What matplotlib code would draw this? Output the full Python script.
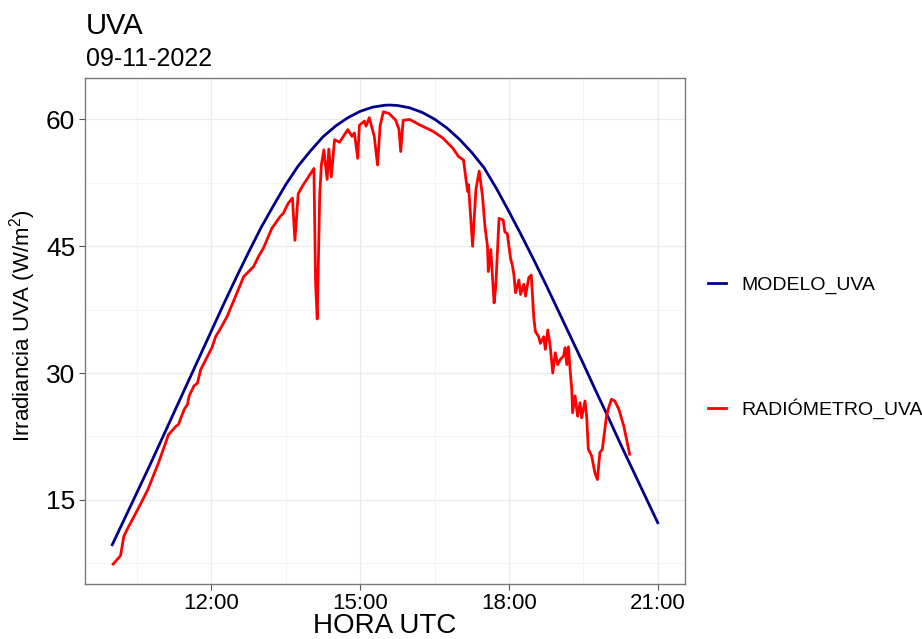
import matplotlib
matplotlib.use('Agg')
import matplotlib.pyplot as plt
import matplotlib.dates as mdates
import pandas as pd

plt.rcParams['font.family'] = ['Liberation Sans', 'DejaVu Sans']
plt.rcParams['mathtext.default'] = 'regular'

DAY = "2022-11-09 "

# modelo (curva suave), cada 15 min
modelo_hora = ["10:00", "10:15", "10:30", "10:45", "11:00", "11:15", "11:30", "11:45",
               "12:00", "12:15", "12:30", "12:45", "13:00", "13:15", "13:30", "13:45",
               "14:00", "14:15", "14:30", "14:45", "15:00", "15:15", "15:30", "15:36",
               "15:45", "16:00", "16:15", "16:30", "16:45", "17:00", "17:15", "17:30",
               "17:45", "18:00", "18:15", "18:30", "18:45", "19:00", "19:15", "19:30",
               "19:45", "20:00", "20:15", "20:30", "20:45", "21:00"]
modelo_uva = [9.7, 12.8, 15.9, 19.0, 22.2, 25.4, 28.6, 31.8,
              35.0, 38.2, 41.3, 44.3, 47.2, 49.8, 52.3, 54.5,
              56.3, 57.95, 59.2, 60.2, 60.96, 61.45, 61.68, 61.7,
              61.65, 61.37, 60.83, 60.03, 58.98, 57.66, 56.09, 54.26,
              51.8, 49.1, 46.3, 43.4, 40.4, 37.3, 34.2, 31.1,
              27.9, 24.8, 21.6, 18.5, 15.4, 12.3]

# radiometro (medido)
radio_hora = ["10:01", "10:10", "10:14", "10:19", "10:31", "10:43", "10:56", "11:08",
              "11:17", "11:20", "11:27", "11:31", "11:33", "11:39", "11:43", "11:47",
              "12:01", "12:05", "12:10", "12:19", "12:39", "12:43", "12:51", "12:57",
              "13:03", "13:13", "13:23", "13:27", "13:33", "13:38", "13:41", "13:45",
              "13:50", "14:04", "14:06", "14:08", "14:11", "14:13", "14:16", "14:20",
              "14:22", "14:25", "14:29", "14:35", "14:45", "14:50", "14:53", "14:57",
              "14:59", "15:05", "15:07", "15:11", "15:17", "15:21", "15:24", "15:28",
              "15:35", "15:43", "15:47", "15:49", "15:52", "16:00", "16:11", "16:28",
              "16:40", "16:52", "16:59", "17:05", "17:08", "17:10", "17:11", "17:16",
              "17:20", "17:24", "17:28", "17:31", "17:34", "17:35", "17:38", "17:42",
              "17:44", "17:48", "17:53", "17:55", "17:58", "18:02", "18:04", "18:06",
              "18:08", "18:12", "18:14", "18:18", "18:20", "18:24", "18:27", "18:30",
              "18:32", "18:36", "18:38", "18:42", "18:44", "18:47", "18:50", "18:53",
              "18:56", "18:59", "19:02", "19:06", "19:08", "19:10", "19:12", "19:14",
              "19:16", "19:17", "19:20", "19:23", "19:26", "19:28", "19:32", "19:34",
              "19:36", "19:40", "19:44", "19:47", "19:50", "19:53", "19:56", "19:58",
              "20:00", "20:04", "20:08", "20:13", "20:19", "20:26"]
radio_uva = [7.4, 8.4, 10.7, 11.7, 13.9, 16.2, 19.4, 22.7,
             23.7, 23.9, 25.7, 26.3, 27.3, 28.5, 28.8, 30.4,
             33.1, 34.3, 35.1, 36.7, 41.4, 41.8, 42.6, 43.8,
             44.8, 47.1, 48.5, 48.9, 50.1, 50.7, 45.7, 51.2,
             52.1, 54.2, 40.6, 36.4, 51.0, 54.6, 56.4, 52.9,
             56.5, 53.2, 57.6, 57.3, 58.8, 58.0, 58.4, 55.4,
             59.3, 59.8, 59.2, 60.2, 58.0, 54.6, 59.2, 60.9,
             60.7, 59.9, 58.8, 56.2, 59.9, 60.0, 59.4, 58.6,
             57.8, 56.6, 55.6, 55.2, 52.9, 51.5, 52.3, 45.0,
             51.7, 53.9, 50.9, 47.3, 45.0, 42.0, 44.6, 38.3,
             40.2, 48.3, 48.1, 46.7, 46.5, 43.5, 42.8, 41.6,
             39.5, 41.0, 39.3, 40.5, 39.1, 41.3, 41.6, 36.6,
             34.9, 34.3, 33.5, 34.3, 32.8, 35.1, 33.1, 30.0,
             32.4, 31.0, 31.6, 32.0, 33.0, 31.0, 33.1, 30.4,
             28.0, 25.3, 27.3, 24.9, 26.5, 24.7, 26.7, 24.9,
             21.0, 20.2, 18.2, 17.4, 20.6, 21.0, 23.3, 24.9,
             25.7, 26.9, 26.7, 25.7, 23.7, 20.4]

t_modelo = pd.to_datetime([DAY + h for h in modelo_hora])
t_radio = pd.to_datetime([DAY + h for h in radio_hora])

fig = plt.figure(figsize=(9.22, 6.39), dpi=100)
ax = fig.add_axes([85 / 922, 1 - 584 / 639, 600 / 922, 506 / 639])

l1, = ax.plot(t_modelo, modelo_uva, color='#00008B', lw=2.0, label='MODELO_UVA')
l2, = ax.plot(t_radio, radio_uva, color='#FF0000', lw=2.0, label='RADIÓMETRO_UVA')

ax.set_xlim(pd.Timestamp(DAY + "09:27"), pd.Timestamp(DAY + "21:33"))
ax.set_ylim(5.05, 64.9)

ax.xaxis.set_major_locator(mdates.HourLocator(byhour=[12, 15, 18, 21]))
ax.xaxis.set_major_formatter(mdates.DateFormatter('%H:%M'))
ax.set_yticks([15, 30, 45, 60])
ax.set_yticks([7.5, 22.5, 37.5, 52.5], minor=True)

# minor x grid at half past (10:30, 13:30, 16:30, 19:30)
for h in ["10:30", "13:30", "16:30", "19:30"]:
    ax.axvline(pd.Timestamp(DAY + h), color='#f2f2f2', lw=0.6, zorder=0)
ax.grid(True, which='major', color='#ebebeb', lw=0.9, zorder=0)
ax.grid(True, which='minor', axis='y', color='#f2f2f2', lw=0.6, zorder=0)
ax.set_axisbelow(True)

for s in ax.spines.values():
    s.set_color('#7a7a7a')
    s.set_linewidth(1.0)

ax.tick_params(axis='x', which='major', labelsize=16, length=4, width=0.8,
               color='#555555', pad=2.5, labelcolor='black')
ax.tick_params(axis='y', which='major', labelsize=19, length=4, width=0.8,
               color='#555555', pad=3, labelcolor='black')
ax.tick_params(which='minor', length=0)

fig.text(86 / 922, 1 - 34.3 / 639, 'UVA', fontsize=21, ha='left', va='baseline')
fig.text(86 / 922, 1 - 65.7 / 639, '09-11-2022', fontsize=18, ha='left', va='baseline')
fig.text(385 / 922, 1 - 633 / 639, 'HORA UTC', fontsize=20, ha='center', va='baseline')
fig.text(23 / 922, 1 - 326 / 639, r'Irradiancia UVA (W/m$^2$)', fontsize=16,
         rotation=90, ha='center', va='center')

fig.legend(handles=[l1, l2], loc='center left', bbox_to_anchor=(708 / 922, 1 - 347.5 / 639),
           frameon=False, fontsize=14, handlelength=0.9, handletextpad=0.8,
           labelspacing=5.35, borderpad=0, borderaxespad=0)

fig.savefig('out.png', dpi=100)
